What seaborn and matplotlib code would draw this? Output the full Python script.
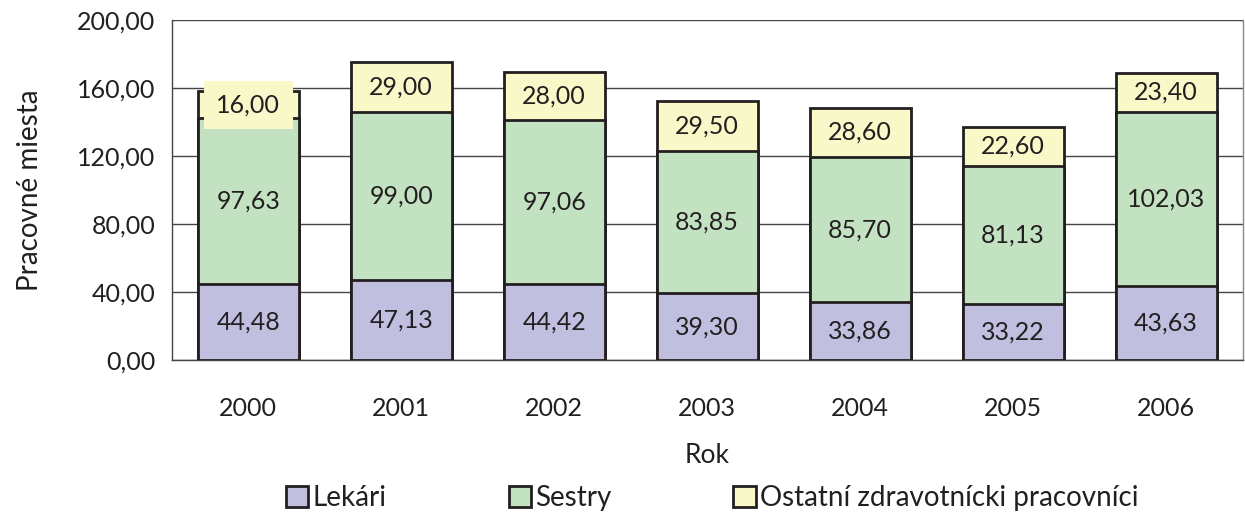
import numpy as np
import pandas as pd
import seaborn as sns
import matplotlib.pyplot as plt
from matplotlib.patches import Patch

# data
years = ['2000', '2001', '2002', '2003', '2004', '2005', '2006']
lekari = [44.48, 47.13, 44.42, 39.30, 33.86, 33.22, 43.63]
sestry = [97.63, 99.00, 97.06, 83.85, 85.70, 81.13, 102.03]
ostatni = [16.00, 29.00, 28.00, 29.50, 28.60, 22.60, 23.40]
series_names = ['Lekári', 'Sestry', 'Ostatní zdravotnícki pracovníci']

df = pd.DataFrame({'Rok': years, 'Lekári': lekari, 'Sestry': sestry, 'Ostatní': ostatni})
df['c1'] = df['Lekári']
df['c2'] = df['c1'] + df['Sestry']
df['c3'] = df['c2'] + df['Ostatní']

col_lek = '#C0BFDF'
col_ses = '#C3E2C1'
col_ost = '#F8F8C8'
edge = '#231F20'
txt = '#231F20'

sns.set_theme(style='white')
plt.rcParams['font.family'] = ['Lato', 'DejaVu Sans']

fig = plt.figure(figsize=(12.45, 5.15), dpi=100)
ax = fig.add_axes([0.138, 0.301, 0.860, 0.660])

# stacked bars: draw cumulative totals from the top down
for col, color in [('c3', col_ost), ('c2', col_ses), ('c1', col_lek)]:
    sns.barplot(data=df, x='Rok', y=col, color=color, width=0.66,
                edgecolor=edge, linewidth=2.0, saturation=1, ax=ax, zorder=3)

# value labels in the middle of every segment
for i in range(len(years)):
    segs = [(0, lekari[i], col_lek), (df['c1'][i], sestry[i], col_ses),
            (df['c2'][i], ostatni[i], col_ost)]
    for base, val, color in segs:
        label = f'{val:.2f}'.replace('.', ',')
        kw = {}
        if val < 20:
            kw['bbox'] = dict(facecolor=color, edgecolor='none', pad=9)
        ax.text(i, base + val / 2, label, ha='center', va='center',
                fontsize=18, color=txt, zorder=5, **kw)

ax.set_ylim(0, 200)
ax.set_xlim(-0.5, len(years) - 0.5)
ax.set_yticks(np.arange(0, 201, 40))
ax.set_yticklabels([f'{v:.2f}'.replace('.', ',') for v in np.arange(0, 201, 40)])
ax.yaxis.grid(True, color='#444444', linewidth=1.0, zorder=0)
ax.set_axisbelow(True)

# category ticks between the bars
ax.set_xticks(np.arange(-0.5, len(years), 1.0), minor=True)
ax.tick_params(axis='x', which='major', length=0, pad=27, labelsize=18, labelcolor=txt)
ax.tick_params(axis='x', which='minor', length=7, width=1, color='#444444', direction='out')
ax.tick_params(axis='y', length=8, width=1, color='#444444', direction='out',
               labelsize=18, labelcolor=txt, pad=4)

ax.spines['top'].set_visible(False)
ax.spines['right'].set_color('#888888')
ax.spines['right'].set_linewidth(1)
for s in ['left', 'bottom']:
    ax.spines[s].set_color('#444444')
    ax.spines[s].set_linewidth(1)

ax.set_xlabel('Rok', fontsize=19, color=txt, labelpad=16)
ax.set_ylabel('Pracovné miesta', fontsize=20, color=txt, labelpad=24)

handles = [Patch(facecolor=c, edgecolor=edge, linewidth=2) for c in (col_lek, col_ses, col_ost)]
fig.legend(handles, series_names, loc='center', bbox_to_anchor=(0.572, 0.033),
           ncol=3, frameon=False, handlelength=0.8, handleheight=0.8,
           handletextpad=0.15, columnspacing=4.4, labelcolor=txt,
           prop={'size': 20})

fig.savefig('out.png', dpi=100)
